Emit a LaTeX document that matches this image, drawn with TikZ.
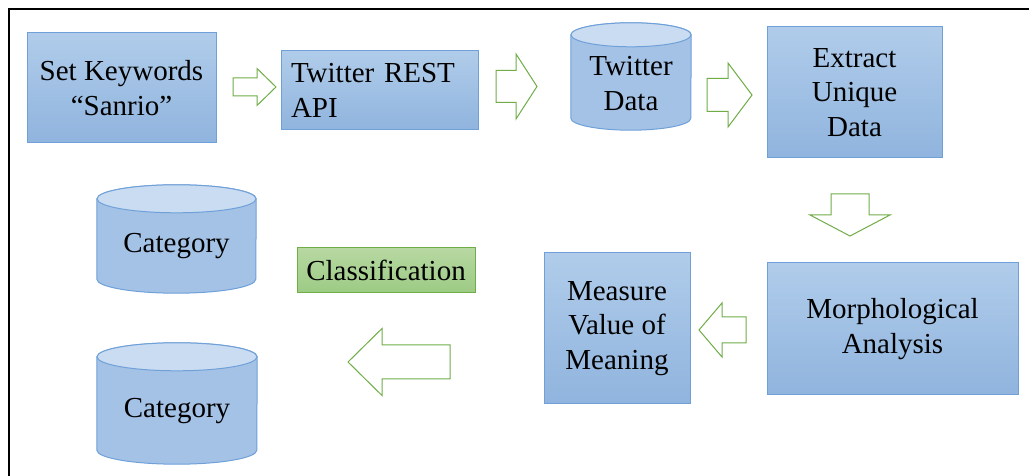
\documentclass[tikz,border=0pt]{standalone}
\usepackage{fontspec}
\setmainfont{Liberation Serif}
\definecolor{boxtop}{HTML}{B0CCEA}
\definecolor{boxbot}{HTML}{90B4DE}
\definecolor{boxline}{HTML}{6FA0D8}
\definecolor{cylbody}{HTML}{A4C2E6}
\definecolor{cylend}{HTML}{CADCF1}
\definecolor{grtop}{HTML}{B7D8A2}
\definecolor{grbot}{HTML}{9CCB84}
\definecolor{grline}{HTML}{70AD47}
\tikzset{
  txt/.style={font=\fontsize{29}{34.5}\selectfont, align=center, inner sep=0pt},
  bluebox/.style={txt, draw=boxline, line width=1pt, top color=boxtop, bottom color=boxbot},
  greenbox/.style={txt, draw=grline, line width=1pt, top color=grtop, bottom color=grbot},
  cylslot/.style={inner sep=0pt},
  cylline/.style={draw=boxline, line width=1pt},
  blockarrow/.style={draw=grline, line width=1pt, fill=white, line join=miter},
}
% #1 node, #2 half width, #3 ry
\newcommand\mycyl[3]{%
  \path[cylline, fill=cylbody] ([yshift=-#3pt]#1.north west) -- ([yshift=#3pt]#1.south west)
    arc[start angle=180, end angle=360, x radius=#2pt, y radius=#3pt]
    -- ([yshift=-#3pt]#1.north east)
    arc[start angle=0, end angle=180, x radius=#2pt, y radius=#3pt] -- cycle;
  \path[cylline, fill=cylend] ([yshift=-#3pt]#1.north) ellipse[x radius=#2pt, y radius=#3pt];
}
% horizontal block arrow: tail x, head-base x, tip x, centre y, shaft half, head half
\newcommand\myharrow[6]{%
  \draw[blockarrow] (#1,#4+#5) -- (#2,#4+#5) -- (#2,#4+#6) -- (#3,#4)
    -- (#2,#4-#6) -- (#2,#4-#5) -- (#1,#4-#5) -- cycle;
}
\begin{document}
\begin{tikzpicture}[x=1pt,y=1pt]
\useasboundingbox (0,0) rectangle (1029,476);
\fill[white] (0,0) rectangle (1029,476);
% frame
\draw[line width=2pt, black] (9.3,-20) -- (9.3,467) -- (1050,467);

% boxes
\node[bluebox, minimum width=189pt, minimum height=110pt] (kw) at (121.5,388) {Set Keywords\\``Sanrio''};
\node[bluebox, minimum width=197pt, minimum height=79pt, align=left, text width=177pt, inner xsep=10pt] (api) at (379.5,385.5) {Twitter REST\\API};
\node[bluebox, minimum width=175pt, minimum height=131pt] (ex) at (854.5,383.5) {Extract\\Unique\\Data};
\node[bluebox, minimum width=251pt, minimum height=132pt] (mo) at (892.5,147) {Morphological\\Analysis};
\node[bluebox, minimum width=146pt, minimum height=151pt] (me) at (617,147.5) {Measure\\Value of\\Meaning};
\node[greenbox, minimum width=178pt, minimum height=45pt] (cl) at (386,205.5) {Classification};

% cylinders
\node[cylslot, minimum width=120pt, minimum height=107pt] (td) at (631,399.5) {};
\mycyl{td}{60}{12}
\node[txt] (tdt) at ([yshift=-7pt]td.center) {Twitter\\Data};

\node[cylslot, minimum width=159pt, minimum height=108pt] (cat1) at (176.5,237) {};
\mycyl{cat1}{79.5}{14}
\node[txt] (cat1t) at ([yshift=-7pt]cat1.center) {Category};

\node[cylslot, minimum width=160pt, minimum height=121pt] (cat2) at (177,72.5) {};
\mycyl{cat2}{80}{14}
\node[txt] (cat2t) at ([yshift=-7.5pt]cat2.center) {Category};

% block arrows
\myharrow{233}{257}{276}{389}{9}{18.5}
\myharrow{496}{516}{537}{389.5}{16}{32.5}
\myharrow{707}{728}{752}{381}{16.5}{32}
\myharrow{746}{722}{699}{146}{13}{27}
\myharrow{450}{382}{348}{114}{17}{33.5}
\draw[blockarrow] (831,282) -- (831,261) -- (810,261) -- (850,240) -- (890,261) -- (869,261) -- (869,282) -- cycle;
\end{tikzpicture}
\end{document}
